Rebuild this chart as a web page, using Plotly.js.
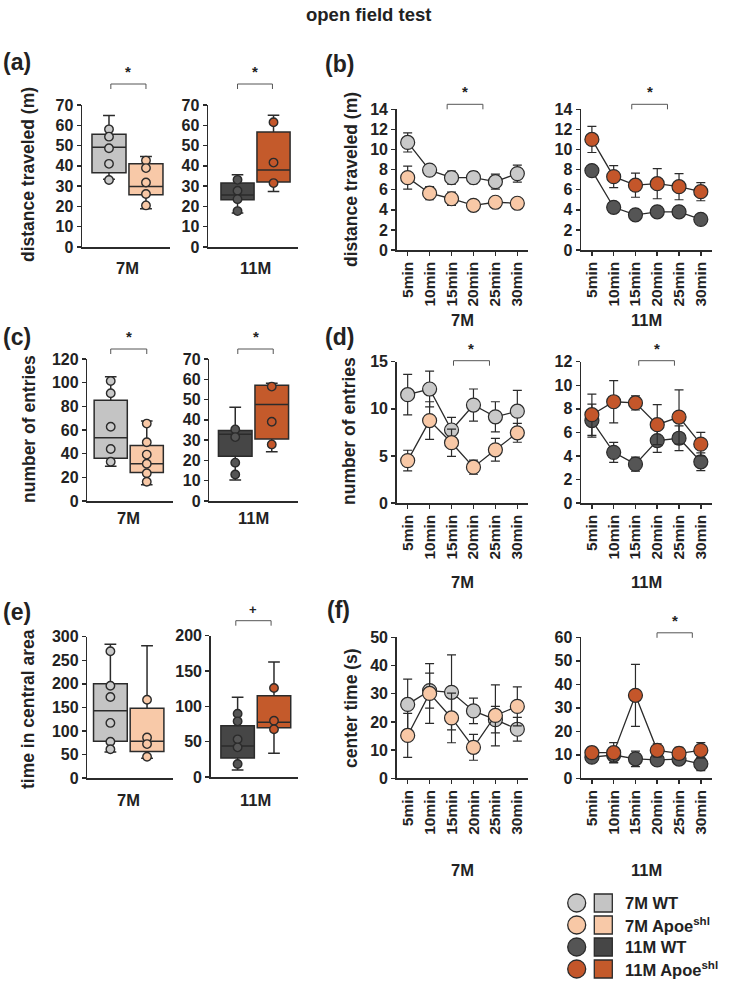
<!DOCTYPE html>
<html>
<head>
<meta charset="utf-8">
<script src="https://cdn.plot.ly/plotly-3.0.1.min.js"></script>
<style>
  html, body { margin: 0; padding: 0; background: #ffffff; }
  #fig { width: 736px; height: 986px; }
</style>
</head>
<body>
<div id="fig"></div>
<script>
// ---------- labels ----------
const groups = ['7M WT', '7M Apoe<sup>shl</sup>', '11M WT', '11M Apoe<sup>shl</sup>'];
const ages = ['7M', '11M'];
const times = ['5min', '10min', '15min', '20min', '25min', '30min'];

// ---------- (a) distance traveled, box summaries [lower whisker, q1, median, q3, upper whisker] ----------
const distBox7WT = [33.4, 36.6, 49.2, 55.6, 64.8];
const distBox7Apoe = [18.9, 25.7, 29.8, 41.1, 44.6];
const distBox11WT = [16.7, 23.3, 25.6, 31.6, 35.6];
const distBox11Apoe = [27.4, 32.1, 38.0, 56.7, 65.0];
const distPts7WT = [58, 54.4, 48.7, 41, 33];
const distPts7Apoe = [42.6, 38.9, 31.8, 26.1, 20.5];
const distPts11WT = [33.1, 27.7, 23.6, 17.7];
const distPts11Apoe = [61.5, 41.6, 31.5];

// ---------- (b) distance traveled per 5-min bin, mean and SEM ----------
const distMean7WT = [10.7, 7.95, 7.2, 7.2, 6.8, 7.6];
const distSem7WT = [0.95, 0.5, 0.65, 0.6, 0.75, 0.85];
const distMean7Apoe = [7.2, 5.65, 5.1, 4.45, 4.75, 4.65];
const distSem7Apoe = [1.15, 0.65, 0.65, 0.35, 0.3, 0.35];
const distMean11WT = [7.9, 4.25, 3.5, 3.8, 3.8, 3.05];
const distSem11WT = [0.5, 0.3, 0.35, 0.35, 0.35, 0.3];
const distMean11Apoe = [11.0, 7.3, 6.45, 6.6, 6.3, 5.8];
const distSem11Apoe = [1.3, 1.1, 1.2, 1.5, 1.3, 0.9];

// ---------- (c) number of entries, box summaries ----------
const entBox7WT = [29.3, 36.1, 53.5, 85.1, 105];
const entBox7Apoe = [13.8, 24, 31.5, 47, 67.6];
const entBox11WT = [10.4, 22, 32.9, 34.8, 46.2];
const entBox11Apoe = [24.3, 30.6, 47.6, 57, 58];
const entPts7WT = [101.4, 91, 62.8, 44, 33.2];
const entPts7Apoe = [65.4, 49.6, 39.2, 31.5, 23.4, 16.3];
const entPts11WT = [35.3, 31.5, 18.9, 13.1];
const entPts11Apoe = [56.4, 39.1, 27.9];

// ---------- (d) number of entries per bin ----------
const entMean7WT = [11.5, 12.1, 7.75, 10.4, 9.15, 9.75];
const entSem7WT = [2.15, 1.9, 1.35, 1.7, 1.6, 2.2];
const entMean7Apoe = [4.5, 8.75, 6.4, 3.8, 5.65, 7.45];
const entSem7Apoe = [1.1, 2.0, 1.45, 0.75, 1.2, 1.0];
const entMean11WT = [7.0, 4.3, 3.3, 5.3, 5.5, 3.5];
const entSem11WT = [1.4, 0.85, 0.6, 1.0, 1.05, 0.75];
const entMean11Apoe = [7.5, 8.6, 8.5, 6.65, 7.3, 5.0];
const entSem11Apoe = [1.75, 1.8, 0.6, 1.7, 2.3, 1.0];

// ---------- (e) time in central area, box summaries ----------
const ctBox7WT = [55, 78, 143, 200, 284];
const ctBox7Apoe = [42, 56, 78, 148, 281];
const ctBox11WT = [10, 27, 44, 72.6, 113];
const ctBox11Apoe = [33.5, 69.8, 77.4, 115, 162.7];
const ctPts7WT = [269, 196, 172, 117, 77, 61];
const ctPts7Apoe = [166, 86, 72, 45];
const ctPts11WT = [89.6, 78.8, 53.3, 42, 18.4];
const ctPts11Apoe = [125.9, 79.7, 67.5];

// ---------- (f) center time per bin ----------
const ctMean7WT = [26.2, 31.1, 30.5, 23.9, 20.8, 17.4];
const ctSem7WT = [9.0, 6.2, 13.3, 4.5, 4.7, 4.2];
const ctMean7Apoe = [15.2, 30.1, 21.4, 11.0, 22.3, 25.5];
const ctSem7Apoe = [7.8, 10.6, 8.8, 4.6, 10.8, 6.9];
const ctMean11WT = [9.0, 9.9, 8.3, 7.8, 8.2, 6.1];
const ctSem11WT = [2.0, 3.1, 3.3, 2.3, 2.0, 2.8];
const ctMean11Apoe = [10.9, 10.9, 35.3, 11.9, 10.6, 11.9];
const ctSem11Apoe = [2.4, 4.3, 13.2, 2.8, 2.6, 3.3];

// ---------- styling ----------
const W = 736, H = 986;
const FONT = 'Liberation Sans, Arial, Helvetica, sans-serif';
const INK = '#2b2b2b';
const TXT = '#222222';
const markerFill = ['#c9c9c9', '#f8c8a6', '#555555', '#c4562a'];
const boxFill = ['#c4c4c4', '#f8c9a8', '#464646', '#c45a2b'];

const px = v => v / W;
const py = v => 1 - v / H;

// subplot frames in pixels: [left, top, right, bottom]
const panels = [
  {kind: 'box', rect: [82, 105, 170, 247], xr: [-0.73, 1.65], yr: [0, 70], dtick: 10, age: 0, ageDy: 21,
   series: [{g: 0, stats: distBox7WT, pts: distPts7WT}, {g: 1, stats: distBox7Apoe, pts: distPts7Apoe}],
   bracket: {x0: 0.05, x1: 1.0, off: 21, label: '*'}},
  {kind: 'box', rect: [208, 105, 298, 247], xr: [-0.82, 1.68], yr: [0, 70], dtick: 10, age: 1, ageDy: 21,
   series: [{g: 2, stats: distBox11WT, pts: distPts11WT}, {g: 3, stats: distBox11Apoe, pts: distPts11Apoe}],
   bracket: {x0: 0.0, x1: 0.97, off: 21, label: '*'}},
  {kind: 'line', rect: [396.7, 109.3, 528.3, 250], yr: [0, 14], dtick: 2, age: 0, ageDy: 70,
   series: [{g: 0, mean: distMean7WT, sem: distSem7WT}, {g: 1, mean: distMean7Apoe, sem: distSem7Apoe}],
   bracket: {x0: 1.8, x1: 3.43, off: 5, label: '*'}},
  {kind: 'line', rect: [581, 109.3, 711.7, 250], yr: [0, 14], dtick: 2, age: 1, ageDy: 70,
   series: [{g: 2, mean: distMean11WT, sem: distSem11WT}, {g: 3, mean: distMean11Apoe, sem: distSem11Apoe}],
   bracket: {x0: 1.83, x1: 3.47, off: 5, label: '*'}},

  {kind: 'box', rect: [87.3, 359, 172.7, 501], xr: [-0.65, 1.72], yr: [0, 120], dtick: 20, age: 0, ageDy: 17,
   series: [{g: 0, stats: entBox7WT, pts: entPts7WT}, {g: 1, stats: entBox7Apoe, pts: entPts7Apoe}],
   bracket: {x0: 0.0, x1: 1.0, off: 10, label: '*'}},
  {kind: 'box', rect: [209.3, 359, 297.7, 501], xr: [-0.71, 1.71], yr: [0, 70], dtick: 10, age: 1, ageDy: 17,
   series: [{g: 2, stats: entBox11WT, pts: entPts11WT}, {g: 3, stats: entBox11Apoe, pts: entPts11Apoe}],
   bracket: {x0: 0.07, x1: 1.04, off: 10, label: '*'}},
  {kind: 'line', rect: [396.7, 361.7, 528.3, 503], yr: [0, 15], dtick: 5, age: 0, ageDy: 79,
   series: [{g: 0, mean: entMean7WT, sem: entSem7WT}, {g: 1, mean: entMean7Apoe, sem: entSem7Apoe}],
   bracket: {x0: 2.09, x1: 3.73, off: 1, label: '*'}},
  {kind: 'line', rect: [581, 361.7, 711.7, 503], yr: [0, 12], dtick: 2, age: 1, ageDy: 79,
   series: [{g: 2, mean: entMean11WT, sem: entSem11WT}, {g: 3, mean: entMean11Apoe, sem: entSem11Apoe}],
   bracket: {x0: 2.15, x1: 3.79, off: 1, label: '*'}},

  {kind: 'box', rect: [87.3, 636.7, 172.7, 778], xr: [-0.63, 1.70], yr: [0, 300], dtick: 50, age: 0, ageDy: 22,
   series: [{g: 0, stats: ctBox7WT, pts: ctPts7WT}, {g: 1, stats: ctBox7Apoe, pts: ctPts7Apoe}]},
  {kind: 'box', rect: [210.7, 635.7, 298, 777], xr: [-0.74, 1.66], yr: [0, 200], dtick: 50, age: 1, ageDy: 23,
   series: [{g: 2, stats: ctBox11WT, pts: ctPts11WT}, {g: 3, stats: ctBox11Apoe, pts: ctPts11Apoe}],
   bracket: {x0: -0.05, x1: 0.92, off: 15, label: '+'}},
  {kind: 'line', rect: [396.7, 637.3, 528.3, 778.3], yr: [0, 50], dtick: 10, age: 0, ageDy: 92,
   series: [{g: 0, mean: ctMean7WT, sem: ctSem7WT}, {g: 1, mean: ctMean7Apoe, sem: ctSem7Apoe}]},
  {kind: 'line', rect: [581, 637.3, 711.7, 778.3], yr: [0, 60], dtick: 10, age: 1, ageDy: 92,
   series: [{g: 2, mean: ctMean11WT, sem: ctSem11WT}, {g: 3, mean: ctMean11Apoe, sem: ctSem11Apoe}],
   bracket: {x0: 2.99, x1: 4.61, off: 4.5, label: '*'}}
];

const yTitles = [
  {text: 'distance traveled (m)', x: 28, y: 175},
  {text: 'distance traveled (m)', x: 351, y: 180},
  {text: 'number of entries', x: 29, y: 429},
  {text: 'number of entries', x: 349, y: 431},
  {text: 'time in central area', x: 28, y: 709},
  {text: 'center time (s)', x: 351, y: 708}
];
const panelTags = [
  {text: '(a)', x: 17, y: 62}, {text: '(b)', x: 339, y: 64},
  {text: '(c)', x: 17, y: 337}, {text: '(d)', x: 339, y: 337},
  {text: '(e)', x: 17, y: 612}, {text: '(f)', x: 338, y: 610}
];

const traces = [];
const layout = {
  width: W, height: H,
  margin: {l: 0, r: 0, t: 0, b: 0},
  paper_bgcolor: '#ffffff', plot_bgcolor: '#ffffff',
  showlegend: false, hovermode: false,
  font: {family: FONT, color: TXT},
  shapes: [], annotations: []
};

const boldFont = (size) => ({family: FONT, size: size, color: TXT, weight: 'bold'});

panels.forEach((p, i) => {
  const n = i + 1;
  const xa = 'x' + n, ya = 'y' + n;
  const [l, t, r, b] = p.rect;
  const xr = p.kind === 'box' ? p.xr : [-0.5, 5.5];

  layout['yaxis' + n] = {
    domain: [py(b), py(t)], anchor: xa, range: p.yr, dtick: p.dtick, tick0: 0,
    showline: true, linecolor: INK, linewidth: 1.5, ticks: 'outside', ticklen: 4,
    tickcolor: INK, tickwidth: 1.5, showgrid: false, zeroline: false,
    tickfont: boldFont(16), fixedrange: true
  };
  if (p.kind === 'box') {
    layout['xaxis' + n] = {
      domain: [px(l), px(r)], anchor: ya, range: xr, showline: true, linecolor: INK,
      linewidth: 1.5, ticks: '', showticklabels: false, showgrid: false, zeroline: false, fixedrange: true
    };
    p.series.forEach((s, k) => {
      traces.push({
        type: 'box', orientation: 'v', xaxis: xa, yaxis: ya, x: [k],
        lowerfence: [s.stats[0]], q1: [s.stats[1]], median: [s.stats[2]],
        q3: [s.stats[3]], upperfence: [s.stats[4]],
        width: 0.92, whiskerwidth: 0.35, boxpoints: false,
        fillcolor: boxFill[s.g], line: {color: INK, width: 1.5}, hoverinfo: 'skip'
      });
      traces.push({
        type: 'scatter', mode: 'markers', xaxis: xa, yaxis: ya,
        x: s.pts.map(() => k), y: s.pts, cliponaxis: false,
        marker: {size: 8.5, color: markerFill[s.g], line: {color: INK, width: 1.4}}
      });
    });
  } else {
    layout['xaxis' + n] = {
      domain: [px(l), px(r)], anchor: ya, type: 'category', categoryarray: times,
      categoryorder: 'array', range: xr, showline: true, linecolor: INK, linewidth: 1.5,
      ticks: 'outside', ticklen: 4, tickcolor: INK, tickwidth: 1.5, tickangle: -90,
      tickfont: boldFont(15.5), showgrid: false, zeroline: false, fixedrange: true
    };
    p.series.forEach(s => {
      traces.push({
        type: 'scatter', mode: 'lines+markers', xaxis: xa, yaxis: ya,
        x: times, y: s.mean, cliponaxis: false,
        error_y: {type: 'data', array: s.sem, visible: true, color: INK, thickness: 1.2, width: 4.5},
        line: {color: INK, width: 1.3},
        marker: {size: 14, color: markerFill[s.g], line: {color: INK, width: 1.2}}
      });
    });
  }

  // age label under each subplot
  layout.annotations.push({
    xref: xa, yref: 'paper', x: p.kind === 'box' ? 0.5 : 2.5, y: py(b + p.ageDy),
    text: ages[p.age], showarrow: false, xanchor: 'center', yanchor: 'middle',
    font: boldFont(16.5)
  });

  // significance bracket above the subplot
  if (p.bracket) {
    const br = p.bracket;
    const toPx = v => l + (v - xr[0]) / (xr[1] - xr[0]) * (r - l);
    const bx0 = toPx(br.x0), bx1 = toPx(br.x1);
    const by = t - br.off, tick = 5;
    const line = {color: '#555555', width: 1};
    layout.shapes.push(
      {type: 'line', xref: 'paper', yref: 'paper', x0: px(bx0), x1: px(bx1), y0: py(by), y1: py(by), line},
      {type: 'line', xref: 'paper', yref: 'paper', x0: px(bx0), x1: px(bx0), y0: py(by), y1: py(by + tick), line},
      {type: 'line', xref: 'paper', yref: 'paper', x0: px(bx1), x1: px(bx1), y0: py(by), y1: py(by + tick), line}
    );
    layout.annotations.push({
      xref: 'paper', yref: 'paper', x: px((bx0 + bx1) / 2), y: py(by - 2),
      text: br.label, showarrow: false, xanchor: 'center', yanchor: 'bottom',
      font: boldFont(br.label === '+' ? 13 : 15)
    });
  }
});

// figure title
layout.annotations.push({
  xref: 'paper', yref: 'paper', x: px(368), y: py(15), text: 'open field test',
  showarrow: false, xanchor: 'center', yanchor: 'middle', font: boldFont(18.5)
});
yTitles.forEach(a => layout.annotations.push({
  xref: 'paper', yref: 'paper', x: px(a.x), y: py(a.y), text: a.text, textangle: -90,
  showarrow: false, xanchor: 'center', yanchor: 'middle', font: boldFont(17.5)
}));
panelTags.forEach(a => layout.annotations.push({
  xref: 'paper', yref: 'paper', x: px(a.x), y: py(a.y), text: a.text,
  showarrow: false, xanchor: 'center', yanchor: 'middle', font: boldFont(23)
}));

// legend: circle (time course) + square (box) per group
const legendTop = 903, legendStep = 22, sym = 18;
groups.forEach((name, g) => {
  const cy = legendTop + g * legendStep;
  layout.shapes.push({
    type: 'circle', xref: 'paper', yref: 'paper',
    x0: px(576.7 - sym / 2), x1: px(576.7 + sym / 2), y0: py(cy + sym / 2), y1: py(cy - sym / 2),
    fillcolor: markerFill[g], line: {color: INK, width: 1.3}
  });
  layout.shapes.push({
    type: 'rect', xref: 'paper', yref: 'paper',
    x0: px(603.3 - sym / 2), x1: px(603.3 + sym / 2), y0: py(cy + sym / 2), y1: py(cy - sym / 2),
    fillcolor: boxFill[g], line: {color: INK, width: 1.3}
  });
  layout.annotations.push({
    xref: 'paper', yref: 'paper', x: px(623), y: py(cy), text: name,
    showarrow: false, xanchor: 'left', yanchor: 'middle', font: boldFont(16.5)
  });
});

Plotly.newPlot('fig', traces, layout, {staticPlot: true, displayModeBar: false});
</script>
</body>
</html>
